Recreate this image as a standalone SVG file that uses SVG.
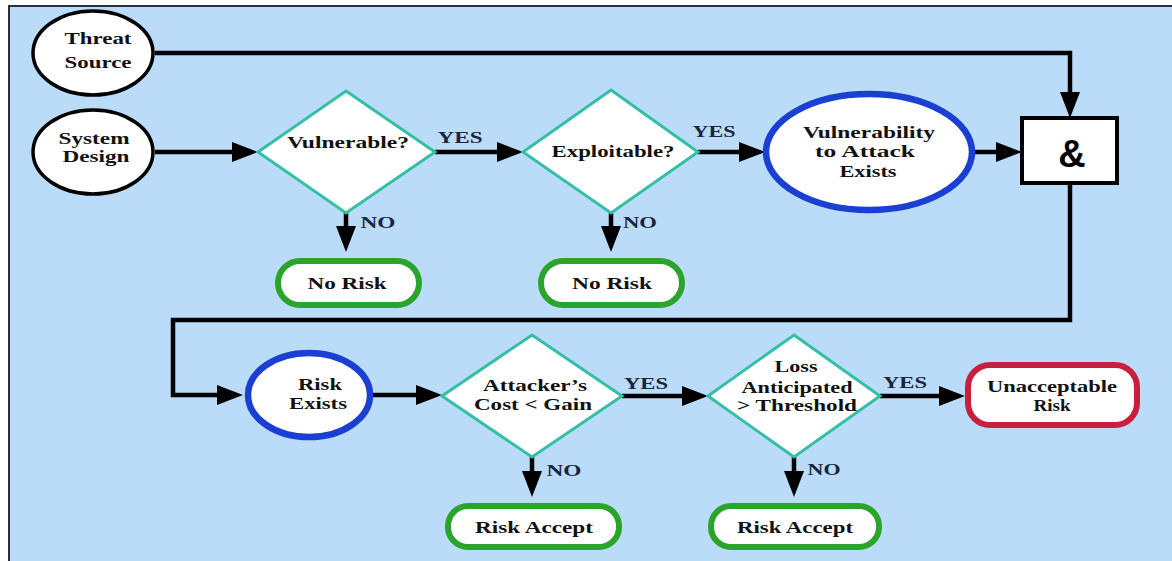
<svg xmlns="http://www.w3.org/2000/svg" width="1172" height="561" viewBox="0 0 1172 561">
<defs>
<marker id="ah" markerUnits="userSpaceOnUse" markerWidth="26" markerHeight="20" refX="18" refY="10" orient="auto">
<path d="M0,0 L26,10 L0,20 z" fill="#000"/>
</marker>
<style>
text{font-family:"Liberation Serif","Times New Roman",serif;font-weight:bold;font-size:17px;fill:#111;text-anchor:middle}
.lbl{fill:#1a2440}
.amp{font-family:"Liberation Sans",Arial,sans-serif;font-size:38px;fill:#000}
.circ{fill:#fff;stroke:#000;stroke-width:3.5}
.dia{fill:#fff;stroke:#34BFA5;stroke-width:3}
.blue{fill:#fff;stroke:#1B3FD2;stroke-width:6.5}
.green{fill:#fff;stroke:#2BA42B;stroke-width:6}
.red{fill:#fff;stroke:#C71F3D;stroke-width:6}
.box{fill:#fff;stroke:#000;stroke-width:4}
.con{fill:none;stroke:#000;stroke-width:4.5;marker-end:url(#ah)}
</style>
</defs>
<rect x="0" y="0" width="1172" height="561" fill="#fff"/>
<rect x="9" y="6" width="1175" height="570" fill="#BADCF8" stroke="#2a2f3a" stroke-width="2"/>

<g id="connectors">
<path class="con" d="M155,53 H1070 V110"/>
<path class="con" d="M155,152 H250"/>
<path class="con" d="M435,152 H515"/>
<path class="con" d="M698,152 H757"/>
<path class="con" d="M973,152 H1014"/>
<path class="con" d="M1070,183 V320 H173 V395 H235"/>
<path class="con" d="M373,395 H434"/>
<path class="con" d="M622,396 H700"/>
<path class="con" d="M880,396 H957"/>
<path class="con" d="M346,213 V244"/>
<path class="con" d="M611,213 V244"/>
<path class="con" d="M532,457 V489"/>
<path class="con" d="M794,457 V489"/>
<text class="lbl" x="460" y="143" textLength="45" lengthAdjust="spacingAndGlyphs">YES</text>
<text class="lbl" x="714" y="137" textLength="43" lengthAdjust="spacingAndGlyphs">YES</text>
<text class="lbl" x="646" y="389" textLength="44" lengthAdjust="spacingAndGlyphs">YES</text>
<text class="lbl" x="905" y="388" textLength="44" lengthAdjust="spacingAndGlyphs">YES</text>
<text class="lbl" x="378" y="228" textLength="35" lengthAdjust="spacingAndGlyphs">NO</text>
<text class="lbl" x="640" y="228" textLength="34" lengthAdjust="spacingAndGlyphs">NO</text>
<text class="lbl" x="564" y="476" textLength="35" lengthAdjust="spacingAndGlyphs">NO</text>
<text class="lbl" x="824" y="475" textLength="33" lengthAdjust="spacingAndGlyphs">NO</text>
</g>

<g id="threat-source">
<ellipse class="circ" cx="93" cy="53" rx="60" ry="42"/>
<text x="98" y="44" textLength="67" lengthAdjust="spacingAndGlyphs">Threat</text>
<text x="98" y="68" textLength="67" lengthAdjust="spacingAndGlyphs">Source</text>
</g>

<g id="system-design">
<ellipse class="circ" cx="93" cy="152" rx="60" ry="42"/>
<text x="94" y="144" textLength="71" lengthAdjust="spacingAndGlyphs">System</text>
<text x="96" y="162" textLength="67" lengthAdjust="spacingAndGlyphs">Design</text>
</g>

<g id="vulnerable">
<polygon class="dia" points="346,91 435,152 346,213 258,152"/>
<text x="348" y="148" textLength="122" lengthAdjust="spacingAndGlyphs">Vulnerable?</text>
</g>

<g id="exploitable">
<polygon class="dia" points="611,90 698,152 611,213 523,152"/>
<text x="613" y="157" textLength="123" lengthAdjust="spacingAndGlyphs">Exploitable?</text>
</g>

<g id="vulnerability-exists">
<ellipse class="blue" cx="869" cy="152" rx="103" ry="58"/>
<text x="869" y="138" textLength="132" lengthAdjust="spacingAndGlyphs">Vulnerability</text>
<text x="865" y="157" textLength="100" lengthAdjust="spacingAndGlyphs">to Attack</text>
<text x="868" y="177" textLength="57" lengthAdjust="spacingAndGlyphs">Exists</text>
</g>

<g id="and-gate">
<rect class="box" x="1022" y="118" width="95" height="65"/>
<text class="amp" x="1072" y="167">&amp;</text>
</g>

<g id="no-risk-1">
<rect class="green" x="278" y="261" width="141" height="44" rx="22"/>
<text x="347" y="289" textLength="79" lengthAdjust="spacingAndGlyphs">No Risk</text>
</g>

<g id="no-risk-2">
<rect class="green" x="541" y="261" width="141" height="44" rx="22"/>
<text x="612" y="289" textLength="80" lengthAdjust="spacingAndGlyphs">No Risk</text>
</g>

<g id="risk-exists">
<ellipse class="blue" cx="309" cy="395" rx="61" ry="42"/>
<text x="320" y="390" textLength="44" lengthAdjust="spacingAndGlyphs">Risk</text>
<text x="318" y="409" textLength="58" lengthAdjust="spacingAndGlyphs">Exists</text>
</g>

<g id="attacker-cost">
<polygon class="dia" points="532,335 622,396 532,457 442,396"/>
<text x="535" y="391" textLength="104" lengthAdjust="spacingAndGlyphs">Attacker’s</text>
<text x="533" y="410" textLength="118" lengthAdjust="spacingAndGlyphs">Cost &lt; Gain</text>
</g>

<g id="loss-threshold">
<polygon class="dia" points="794,335 880,396 794,457 708,396"/>
<text x="796" y="372" textLength="43" lengthAdjust="spacingAndGlyphs">Loss</text>
<text x="797" y="393" textLength="111" lengthAdjust="spacingAndGlyphs">Anticipated</text>
<text x="797" y="411" textLength="120" lengthAdjust="spacingAndGlyphs">&gt; Threshold</text>
</g>

<g id="unacceptable-risk">
<rect class="red" x="968" y="365" width="169" height="60" rx="22"/>
<text x="1052" y="392" textLength="130" lengthAdjust="spacingAndGlyphs">Unacceptable</text>
<text x="1052" y="411" textLength="37" lengthAdjust="spacingAndGlyphs">Risk</text>
</g>

<g id="risk-accept-1">
<rect class="green" x="448" y="506" width="171" height="41" rx="20"/>
<text x="534" y="533" textLength="118" lengthAdjust="spacingAndGlyphs">Risk Accept</text>
</g>

<g id="risk-accept-2">
<rect class="green" x="711" y="506" width="168" height="41" rx="20"/>
<text x="795" y="533" textLength="116" lengthAdjust="spacingAndGlyphs">Risk Accept</text>
</g>
</svg>
